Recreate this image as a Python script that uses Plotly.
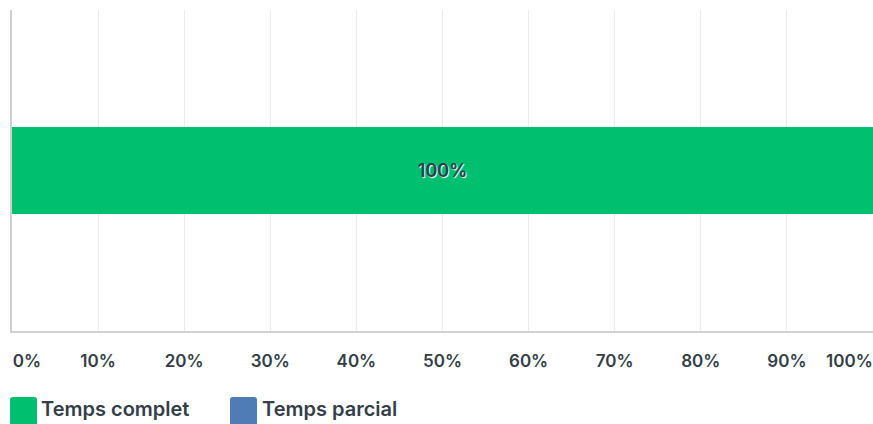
import plotly.graph_objects as go

categories = [""]
series_names = ["Temps complet", "Temps parcial"]
series_values = [[1.0], [0.0]]
series_colors = ["#00BF6F", "#507CB6"]
tick_vals = [0, 0.1, 0.2, 0.3, 0.4, 0.5, 0.6, 0.7, 0.8, 0.9, 1.0]
tick_labels = ["0%", "10%", "20%", "30%", "40%", "50%", "60%", "70%", "80%", "90%", "100%"]

W, H = 873, 424
L, R, T, B = 12, 0, 10, 424 - 331
pw, ph = W - L - R, H - T - B

NB = "\u00a0"
ticktext = list(tick_labels)
ticktext[0] = NB * 7 + ticktext[0]
ticktext[-1] = ticktext[-1] + NB * 11

FONT = "Inter, Roboto, sans-serif"
TXT = "#333e48"

fig = go.Figure()
for name, vals, col in zip(series_names, series_values, series_colors):
    fig.add_trace(go.Bar(
        y=categories, x=vals, name=name, orientation="h",
        marker=dict(color=col, line=dict(width=0)),
        text=[f"{v:.0%}" if v > 0 else "" for v in vals],
        textposition="inside", insidetextanchor="middle",
        textfont=dict(family=FONT, size=18, color=TXT, weight=600,
                      shadow="1px 1px 1px #ffffff"),
        showlegend=False, hoverinfo="skip",
    ))

def px2x(px):
    return (px - L) / pw

def py2y(py):
    return (H - B - py) / ph

def rounded_rect(x0, y0, x1, y1, r):
    # pixel coords (y down) -> paper path
    pts = []
    def P(x, y):
        return f"{px2x(x):.5f},{py2y(y):.5f}"
    return (f"M {P(x0 + r, y0)} L {P(x1 - r, y0)} Q {P(x1, y0)} {P(x1, y0 + r)} "
            f"L {P(x1, y1 - r)} Q {P(x1, y1)} {P(x1 - r, y1)} "
            f"L {P(x0 + r, y1)} Q {P(x0, y1)} {P(x0, y1 - r)} "
            f"L {P(x0, y0 + r)} Q {P(x0, y0)} {P(x0 + r, y0)} Z")

legend_pos = [(10, 39), (230, 260)]
shapes = []
annotations = []
for (sx, tx), name, col in zip(legend_pos, series_names, series_colors):
    shapes.append(dict(type="path", xref="paper", yref="paper",
                       path=rounded_rect(sx, 397, sx + 27, 426, 3),
                       fillcolor=col, line=dict(width=0), layer="above"))
    annotations.append(dict(x=px2x(tx), y=py2y(409), xref="paper", yref="paper",
                            text=name, showarrow=False, xanchor="left", yanchor="middle",
                            font=dict(family=FONT, size=20, color=TXT, weight=600)))

fig.update_layout(
    width=W, height=H,
    margin=dict(l=L, r=R, t=T, b=B, pad=0),
    barmode="stack", bargap=0.732,
    plot_bgcolor="white", paper_bgcolor="white",
    showlegend=False,
    shapes=shapes, annotations=annotations,
    xaxis=dict(range=[0, 1], tickvals=tick_vals, ticktext=ticktext,
               showgrid=True, gridcolor="#ececec", gridwidth=1,
               zeroline=False, showline=True, linecolor="#d0d0d0", linewidth=2,
               ticks="", ticklabelstandoff=14, ticklabeloverflow="allow",
               automargin=False,
               tickfont=dict(family=FONT, size=17, color=TXT, weight=600),
               fixedrange=True),
    yaxis=dict(showgrid=False, zeroline=False, showline=True, linecolor="#d0d0d0",
               linewidth=2, showticklabels=False, ticks="", fixedrange=True,
               automargin=False),
)

fig.write_html(
    "out.html",
    config={"displayModeBar": False},
    post_script="document.body.style.margin='0';document.body.style.overflow='hidden';",
)
